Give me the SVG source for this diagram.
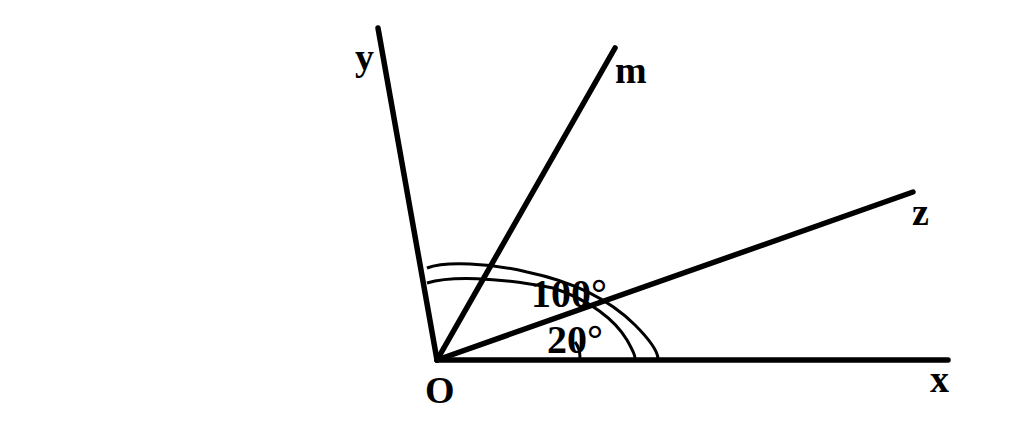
<svg xmlns="http://www.w3.org/2000/svg" width="1024" height="421" viewBox="0 0 1024 421">
<style>
.ray{stroke:#000;stroke-width:5.5;stroke-linecap:round;fill:none}
.arc{stroke:#000;stroke-width:3;fill:none}
text{font-family:"Liberation Serif","Times New Roman",serif;font-weight:bold;font-size:38px;fill:#000}
.ang{font-size:40px}
</style>
<rect width="1024" height="421" fill="#fff"/>
<g id="connectors">
<line class="ray" x1="437" y1="360" x2="948" y2="360"/>
<line class="ray" x1="437" y1="360" x2="378" y2="28"/>
<line class="ray" x1="437" y1="360" x2="615" y2="48"/>
<line class="ray" x1="437" y1="360" x2="913" y2="192"/>
<path class="arc" d="M427 268 C445 261,490 263,527 272 C575 282,610 300,635 325 C650 340,657 350,658 358"/>
<path class="arc" d="M427 283 C450 276,495 277,553 288 C590 300,615 320,627 340 C632 349,635 354,635 358"/>
<path class="arc" d="M575 342 C579 347,580 352,580 358"/>
</g>
<g id="O"><text x="425" y="403">O</text></g>
<g id="x"><text x="930" y="392">x</text></g>
<g id="y"><text x="355" y="70">y</text></g>
<g id="m"><text x="615" y="83">m</text></g>
<g id="z"><text x="912" y="225">z</text></g>
<g id="a100"><text class="ang" x="531" y="307">100°</text></g>
<g id="a20"><text class="ang" x="547" y="353">20°</text></g>
</svg>
